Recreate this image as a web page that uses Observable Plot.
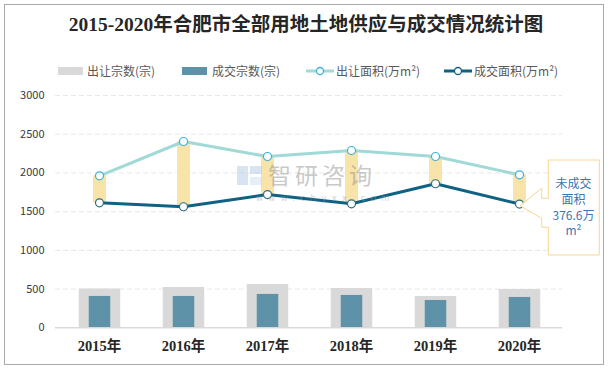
<!DOCTYPE html>
<html><head><meta charset="utf-8">
<script src="https://cdn.jsdelivr.net/npm/d3@7"></script>
<script src="https://cdn.jsdelivr.net/npm/@observablehq/plot@0.6"></script>
<style>
body{margin:0;background:#fff;}
#wrap{position:relative;width:612px;height:369px;overflow:hidden;font-family:"Noto Sans CJK SC",sans-serif;background:#fff;}
#frame{position:absolute;left:4px;top:4px;width:600px;height:361px;border:1px solid #a9a9a9;box-sizing:border-box;pointer-events:none;}
#title{position:absolute;left:0;top:13px;width:612px;text-align:center;font-weight:bold;font-size:19.5px;font-family:"Liberation Serif","Noto Sans CJK SC",serif;color:#262626;line-height:24px;}
.lg{position:absolute;top:62px;height:18px;font-size:12px;line-height:18px;color:#595959;white-space:nowrap;}
.sw{position:absolute;}
#chart{position:absolute;left:0;top:82px;}
#over{position:absolute;left:0;top:0;pointer-events:none;}
</style></head>
<body>
<div id="wrap">
  <div id="title"></div>
  <div id="legend"></div>
  <div id="chart"></div>
  <svg id="over" width="612" height="369"></svg>
  <div id="frame"></div>
</div>
<script>
const titleText = "2015-2020年合肥市全部用地土地供应与成交情况统计图";
const years = ["2015年", "2016年", "2017年", "2018年", "2019年", "2020年"];
const supplyCount = [500, 521, 560, 508, 405, 495];   // 出让宗数(宗)
const dealCount = [405, 405, 431, 418, 353, 392];     // 成交宗数(宗)
const supplyArea = [1963, 2406, 2212, 2290, 2212, 1975]; // 出让面积(万m²)
const dealArea = [1614, 1563, 1721, 1601, 1860, 1598.4]; // 成交面积(万m²)
const yTicks = [0, 500, 1000, 1500, 2000, 2500, 3000];
const seriesNames = ["出让宗数(宗)", "成交宗数(宗)", "出让面积(万m²)", "成交面积(万m²)"];
const calloutLines = ["未成交", "面积", "376.6万", "m²"];
const watermark = ["智研咨询", "www.chyxx.com"];

const C = {gray: "#d9d9d9", blue: "#5e92a8", light: "#a0d9d5", dark: "#0f6283",
  band: "#f8e3a9", lightDot: "#3cb0df", darkDot: "#2f6d7c"};

document.getElementById("title").textContent = titleText;

// legend
const legend = document.getElementById("legend");
const lgPos = [[58, 87], [182, 212], [306, 336], [444, 474]];
seriesNames.forEach((name, i) => {
  const [sx, tx] = lgPos[i];
  const sw = document.createElementNS("http://www.w3.org/2000/svg", "svg");
  sw.setAttribute("width", 28); sw.setAttribute("height", 18);
  sw.setAttribute("class", "sw");
  sw.style.left = sx + "px"; sw.style.top = "62px";
  if (i < 2) {
    sw.innerHTML = `<rect x="0" y="5" width="25" height="8" fill="${i === 0 ? C.gray : C.blue}"/>`;
  } else {
    const col = i === 2 ? C.light : C.dark;
    const dc = i === 2 ? C.lightDot : C.dark;
    sw.innerHTML = `<line x1="0" x2="28" y1="9" y2="9" stroke="${col}" stroke-width="3"/>
      <circle cx="14" cy="9" r="3.5" fill="#fff" stroke="${dc}" stroke-width="1.3"/>`;
  }
  legend.appendChild(sw);
  const t = document.createElement("div");
  t.className = "lg"; t.style.left = tx + "px"; t.textContent = name;
  legend.appendChild(t);
});

const data = years.map((y, i) => ({year: y, sc: supplyCount[i], dc: dealCount[i], sa: supplyArea[i], da: dealArea[i]}));

const chart = Plot.plot({
  width: 612, height: 287,
  marginLeft: 55, marginRight: 50, marginTop: 13, marginBottom: 41.7,
  style: {fontFamily: "'Noto Sans CJK SC', sans-serif", background: "transparent"},
  x: {type: "point", domain: years, padding: 0.5, axis: null},
  y: {domain: [0, 3000], axis: null},
  marks: [
    Plot.ruleY(yTicks.filter(d => d > 0), {stroke: "#e8e8e8", strokeDasharray: "5,3"}),
    Plot.axisY({ticks: yTicks, tickFormat: d => String(d), tickSize: 0, tickPadding: 11, fontSize: 11, fill: "#3a3a3a", label: null}),
    Plot.ruleX(data, {x: "year", y1: 0, y2: "sc", stroke: C.gray, strokeWidth: 41.5}),
    Plot.ruleX(data, {x: "year", y1: 0, y2: "dc", stroke: C.blue, strokeWidth: 21.5}),
    Plot.ruleY([0], {stroke: "#d9d9d9", strokeWidth: 1.5}),
    Plot.ruleX(data, {x: "year", y1: "da", y2: "sa", stroke: C.band, strokeWidth: 13}),
    Plot.line(data, {x: "year", y: "sa", stroke: C.light, strokeWidth: 3}),
    Plot.line(data, {x: "year", y: "da", stroke: C.dark, strokeWidth: 3}),
    Plot.dot(data, {x: "year", y: "sa", r: 4, fill: "#fff", stroke: C.lightDot, strokeWidth: 1.2}),
    Plot.dot(data, {x: "year", y: "da", r: 4, fill: "#fff", stroke: C.darkDot, strokeWidth: 1.2}),
    Plot.text(years, {x: d => d, frameAnchor: "bottom", dy: 18.7, lineAnchor: "middle",
      fontSize: 14.5, fontWeight: "bold", fill: "#262626",
      fontFamily: "'Liberation Serif', 'Noto Sans CJK SC', serif"})
  ]
});
document.getElementById("chart").appendChild(chart);

// overlay: watermark + callout
const over = d3.select("#over");
const wm = over.append("g").attr("opacity", 0.45);
wm.append("rect").attr("x", 237).attr("y", 166).attr("width", 11).attr("height", 19).attr("fill", "#a9c4e4");
wm.append("rect").attr("x", 250).attr("y", 166).attr("width", 12).attr("height", 8).attr("fill", "#a9c4e4");
wm.append("rect").attr("x", 250).attr("y", 177).attr("width", 12).attr("height", 8).attr("fill", "#c9daee");
wm.append("text").attr("x", 268).attr("y", 184).attr("font-size", 23).attr("letter-spacing", 4)
  .attr("fill", "#8a8a8a").attr("font-family", "'Noto Sans CJK SC', sans-serif").text(watermark[0]);
wm.append("text").attr("x", 256).attr("y", 201).attr("font-size", 8.5).attr("letter-spacing", 5.4)
  .attr("fill", "#9a9a9a").attr("font-family", "'DejaVu Sans', sans-serif").text(watermark[1]);

const co = over.append("g");
co.append("path")
  .attr("d", "M548.3,160 H599.3 V255 H548.3 V227.3 H541.7 V218.3 L520,205.7 L541.7,188.3 V198.3 H548.3 Z")
  .attr("fill", "#fff").attr("stroke", "#f8d88e").attr("stroke-width", 1);
const cy = [183.3, 199.5, 215.5, 231];
calloutLines.forEach((t, i) => {
  co.append("text").attr("x", 573.5).attr("y", cy[i]).attr("dy", "0.35em")
    .attr("text-anchor", "middle").attr("font-size", 12).attr("fill", "#3a76b0")
    .attr("font-family", "'Noto Sans CJK SC', sans-serif").text(t);
});
</script>
</body></html>
